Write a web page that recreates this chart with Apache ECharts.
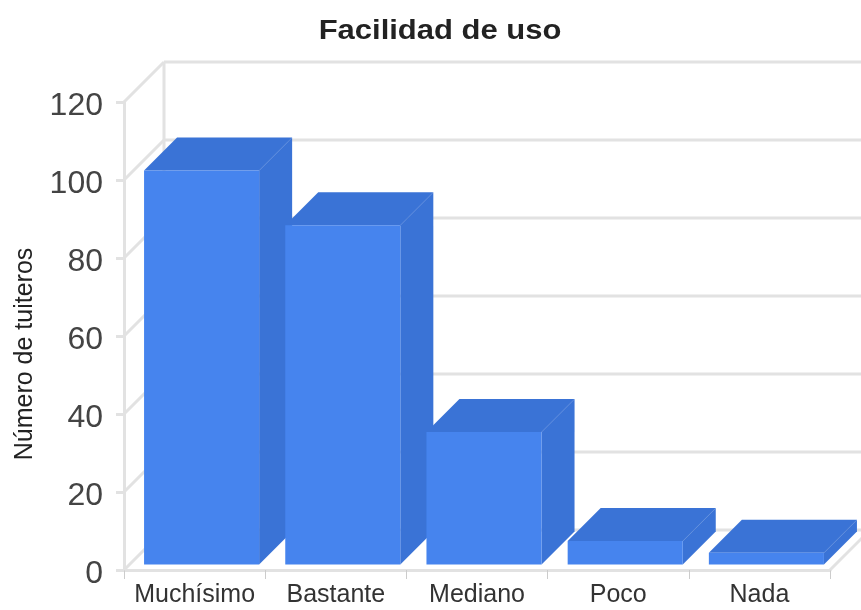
<!DOCTYPE html>
<html>
<head>
<meta charset="utf-8">
<style>
  html, body { margin: 0; padding: 0; background: #fff; }
  #chart { width: 861px; height: 610px; }
</style>
</head>
<body>
<div id="chart"></div>
<script src="https://cdn.jsdelivr.net/npm/echarts@6/dist/echarts.min.js"></script>
<script>
const categories = ['Muchísimo', 'Bastante', 'Mediano', 'Poco', 'Nada']
const values = [101, 87, 34, 6, 3]
const yTicks = [0, 20, 40, 60, 80, 100, 120]

const gridColor = '#e2e2e2'
const frontColor = '#4684ee'
const topColor = '#3a73d6'
const sideColor = '#3a73d6'
// pseudo 3d depth of the walls and of the bars, in pixels
const wallDepth = 40
const barDepth = 33
const barShiftX = 7
const barShiftY = 5.5

const myChart = echarts.init(document.getElementById('chart'))

const renderWall = (params, api) => {
  const sys = params.coordSys
  const p = api.coord([0, api.value(1)])
  const y = p[1]
  const wallLine = { stroke: gridColor, lineWidth: 3 }
  const children = [
    { type: 'line', shape: { x1: sys.x, y1: y, x2: sys.x + wallDepth, y2: y - wallDepth }, style: wallLine },
    { type: 'line', shape: { x1: sys.x + wallDepth, y1: y - wallDepth, x2: sys.x + sys.width + wallDepth, y2: y - wallDepth }, style: wallLine }
  ]
  if (api.value(1) === 0) {
    children.push({ type: 'line', shape: { x1: sys.x + wallDepth, y1: y - wallDepth, x2: sys.x + wallDepth, y2: sys.y - wallDepth }, style: wallLine })
    children.push({ type: 'line', shape: { x1: sys.x + sys.width, y1: y, x2: sys.x + sys.width + wallDepth, y2: y - wallDepth }, style: wallLine })
  }
  return { type: 'group', children: children }
}

const renderBar = (params, api) => {
  const top = api.coord([api.value(0), api.value(1)])
  const base = api.coord([api.value(0), 0])
  const w = api.size([1, 0])[0] * 0.815
  const x0 = top[0] - w / 2 + barShiftX
  const x1 = x0 + w
  const yTop = top[1] - barShiftY
  const yBase = base[1] - barShiftY
  const d = barDepth
  return {
    type: 'group',
    children: [
      { type: 'polygon', shape: { points: [[x1, yTop], [x1 + d, yTop - d], [x1 + d, yBase - d], [x1, yBase]] }, style: { fill: sideColor } },
      { type: 'polygon', shape: { points: [[x0, yTop], [x0 + d, yTop - d], [x1 + d, yTop - d], [x1, yTop]] }, style: { fill: topColor } },
      { type: 'rect', shape: { x: x0, y: yTop, width: w, height: yBase - yTop }, style: { fill: frontColor } }
    ]
  }
}

const option = {
  animation: false,
  backgroundColor: '#fff',
  graphic: [
    {
      // the title is set wider than the font, so it is stretched
      type: 'text',
      x: 440,
      y: 32,
      scaleX: 1.147,
      style: {
        text: 'Facilidad de uso',
        fontFamily: 'Liberation Sans',
        fontSize: 27,
        fontWeight: 'bold',
        fill: '#222',
        align: 'center',
        verticalAlign: 'middle'
      }
    },
    {
      // not centred on the grid, so not an axis name
      type: 'text',
      x: 25,
      y: 354,
      rotation: Math.PI / 2,
      style: {
        text: 'Número de tuiteros',
        fontFamily: 'Liberation Sans',
        fontSize: 25,
        fill: '#222',
        align: 'center',
        verticalAlign: 'middle'
      }
    }
  ],
  grid: {
    left: 124,
    right: 31,
    top: 102,
    bottom: 40,
    outerBoundsMode: 'none'
  },
  xAxis: {
    type: 'category',
    data: categories,
    axisLine: { lineStyle: { color: gridColor, width: 3 } },
    axisTick: { show: true, alignWithLabel: false, length: 9, lineStyle: { color: '#cccccc', width: 1 } },
    axisLabel: {
      interval: 0,
      margin: 13,
      fontFamily: 'Liberation Sans',
      fontSize: 25,
      color: '#333'
    }
  },
  yAxis: {
    type: 'value',
    min: 0,
    max: 120,
    interval: 20,
    axisLine: { show: true, lineStyle: { color: gridColor, width: 3 } },
    axisTick: { show: true, length: 8, lineStyle: { color: gridColor, width: 3 } },
    axisLabel: {
      margin: 21,
      // labels sit a little below their ticks
      verticalAlign: 'top',
      padding: [-12, 0, 0, 0],
      fontFamily: 'Liberation Sans',
      fontSize: 32,
      color: '#444'
    },
    splitLine: { show: false }
  },
  series: [
    {
      type: 'custom',
      renderItem: renderWall,
      silent: true,
      clip: false,
      z: 1,
      data: yTicks.map((v) => [0, v])
    },
    {
      name: 'Número de tuiteros',
      type: 'custom',
      renderItem: renderBar,
      clip: false,
      z: 2,
      data: values.map((v, i) => [i, v])
    }
  ]
}
myChart.setOption(option)
</script>
</body>
</html>
